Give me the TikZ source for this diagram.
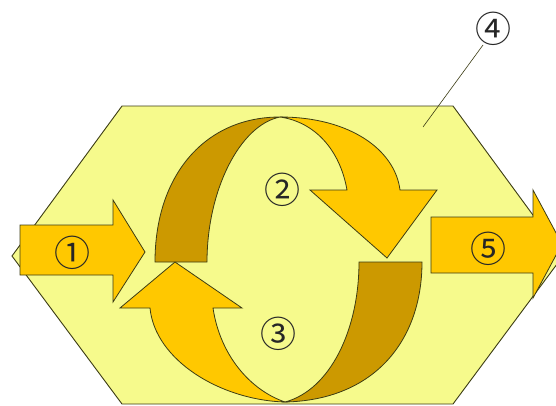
\documentclass[tikz,border=0pt]{standalone}
\usepackage{fontspec}
\newfontfamily\circfont{Noto Sans CJK JP}
\definecolor{hexfill}{RGB}{246,250,140}
\definecolor{gold}{RGB}{255,200,0}
\definecolor{darkgold}{RGB}{204,153,0}
\definecolor{edge}{RGB}{60,60,20}
\begin{document}
\begin{tikzpicture}[x=1pt,y=-1pt,
  hexa/.style={fill=hexfill,draw=edge,line width=0.9pt,line join=miter},
  goldshape/.style={fill=gold,draw=edge,line width=0.8pt,line join=miter},
  backshape/.style={fill=darkgold,draw=edge,line width=0.8pt,line join=miter},
  lbl/.style={font=\circfont\fontsize{36}{36}\selectfont,text=black!85,inner sep=0pt}]
\useasboundingbox (0,0) rectangle (556,405);
\clip (0,0) rectangle (556,405);
\fill[white] (0,0) rectangle (556,405);
% hexagon
\draw[hexa] (12,256) -- (122,106) -- (453,106) -- (563,256) -- (453,404) -- (122,404) -- cycle;
% arrow 1
\draw[goldshape] (20,225) -- (113,225) -- (113,200) -- (145,252) -- (113,302) -- (113,275) -- (20,275) -- cycle;
% arrow 5
\draw[goldshape] (431,217) -- (533,217) -- (533,190) -- (562,244) -- (533,298) -- (533,273) -- (431,273) -- cycle;
% top ring: back band
\draw[backshape] (155,262) .. controls (155,175) and (205,117) .. (280,117)
  .. controls (240,125) and (207,190) .. (207,262) -- cycle;
% top ring: front band with head
\draw[goldshape] (280,117) .. controls (350,117) and (395,150) .. (400,190)
  -- (437,190) -- (387,258) -- (310,190) -- (347,190)
  .. controls (340,150) and (315,122) .. (280,117) -- cycle;
% bottom ring: back band
\draw[backshape] (359,262) -- (422,262) .. controls (422,340) and (375,400) .. (285,402)
  .. controls (330,390) and (359,330) .. (359,262) -- cycle;
% bottom ring: front band with head
\draw[goldshape] (285,402) .. controls (220,400) and (155,360) .. (150,308)
  -- (120,308) -- (175,262) -- (242,308) -- (213,308)
  .. controls (220,355) and (250,390) .. (285,402) -- cycle;
% labels
\node[lbl] (n1) at (72,253) {①};
\node[lbl] (n2) at (282,190) {②};
\node[lbl] (n3) at (278,334) {③};
\node[lbl] (n4) at (493,29) {④};
\node[lbl] (n5) at (488,249) {⑤};
\coordinate (p4) at (423,127);
\coordinate (q4) at (483,45);
\draw[edge,line width=0.6pt] (q4) -- (p4);
\end{tikzpicture}
\end{document}
